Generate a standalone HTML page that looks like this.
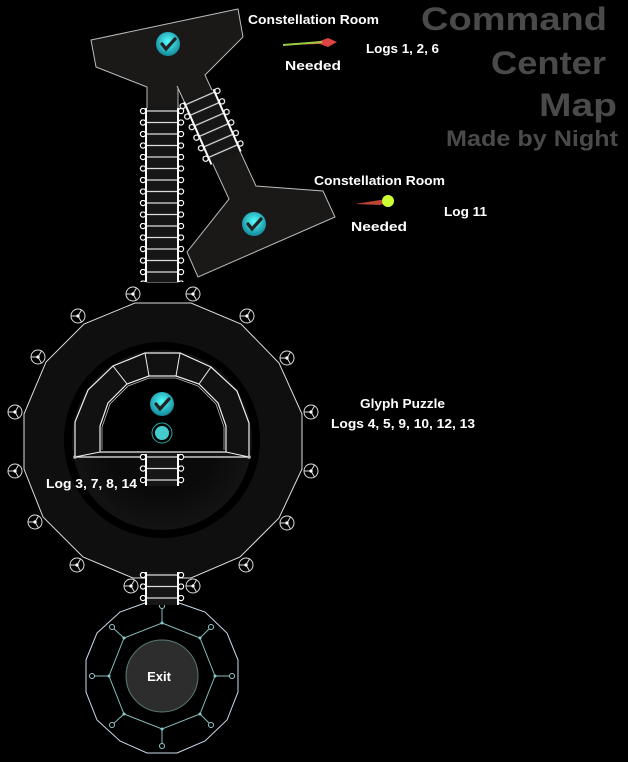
<!DOCTYPE html>
<html><head><meta charset="utf-8"><style>
html,body{margin:0;padding:0;background:#000;}
svg{display:block;}
text{font-family:"Liberation Sans",sans-serif;}
</style></head><body>
<svg width="628" height="762" viewBox="0 0 628 762" xmlns="http://www.w3.org/2000/svg">
<defs>
<pattern id="rung" x="0" y="0" width="46" height="11.5" patternUnits="userSpaceOnUse">
<line x1="7" y1="3" x2="39" y2="3" stroke="#ddd" stroke-width="1.2"/>
<circle cx="4" cy="3" r="2.6" fill="#000" stroke="#fff" stroke-width="1.2"/>
<circle cx="42" cy="3" r="2.6" fill="#000" stroke="#fff" stroke-width="1.2"/>
</pattern>
<radialGradient id="chk" cx="0.5" cy="0.4" r="0.6"><stop offset="0" stop-color="#5ff"/><stop offset="1" stop-color="#189"/></radialGradient>
<radialGradient id="inner" cx="0.5" cy="0.5" r="0.5"><stop offset="0.6" stop-color="#0a0a0a"/><stop offset="1" stop-color="#131313"/></radialGradient>
<g id="fan"><circle r="7" fill="none" stroke="#ddd" stroke-width="1"/><path d="M0 0 L-7 0 M0 0 L3.5 6 M0 0 L3.5 -6" stroke="#ddd" stroke-width="1"/><circle r="1.6" fill="#fff"/></g>
<g id="check"><circle r="12" fill="url(#chk)"/><path d="M-6 0 L-2 5 L7 -5" stroke="#222" stroke-width="3.2" fill="none" stroke-linecap="round"/></g>
</defs>

<polygon points="91,40 238,9 243,37 205,75 256,186 323,191 335,217 198,277 187,252 229,199 177,86 178,88 178,282 147,282 147,87 96,67" fill="#1a1918" stroke="#bbb" stroke-width="1"/>
<g transform="translate(139,108)">
<rect x="7" y="0" width="32" height="174" fill="#161616"/>
<rect x="0" y="0" width="46" height="174" fill="url(#rung)"/>
<line x1="7" y1="0" x2="7" y2="174" stroke="#fff" stroke-width="2"/>
<line x1="39" y1="0" x2="39" y2="174" stroke="#fff" stroke-width="2"/>
</g>
<g transform="translate(202,103) rotate(-23.6) translate(-23,-8)">
<rect x="7" y="0" width="32" height="68" fill="#161616"/>
<rect x="0" y="0" width="46" height="68" fill="url(#rung)"/>
<line x1="7" y1="0" x2="7" y2="68" stroke="#fff" stroke-width="2"/>
<line x1="39" y1="0" x2="39" y2="68" stroke="#fff" stroke-width="2"/>
</g>
<use href="#check" x="168" y="44"/>
<use href="#check" x="254" y="224"/>

<polygon points="135,303 191,303 241,324 279,363 302,414 302,469 279,518 240,557 191,578 133,578 83,557 43,517 24,469 24,414 46,362 84,324" fill="#0f0f0f" stroke="#ddd" stroke-width="1"/>
<circle cx="162" cy="440" r="98" fill="#000"/>
<circle cx="162" cy="440" r="90" fill="url(#inner)"/>
<polygon points="75,457 75,422 88,390 113,366 145,353 180,353 211,367 237,391 249,423 249,457" fill="#111" stroke="#eee" stroke-width="1.2"/>
<polygon points="100,452 100,426 108,403 127,384 149,376 176,376 199,384 218,403 226,426 226,452" fill="#000" stroke="#eee" stroke-width="1.2"/>
<polyline points="102,450 102,427 110,404 128,386 149,378 176,378 198,386 216,404 224,427 224,450" fill="none" stroke="#bbb" stroke-width="0.8"/>
<path d="M113,366 L127,384 M145,353 L149,376 M180,353 L176,376 M211,367 L199,384 M75,457 L100,452 M249,457 L226,452" stroke="#eee" stroke-width="1"/>
<circle cx="75" cy="457" r="1.8" fill="#bbb"/><circle cx="249" cy="457" r="1.8" fill="#bbb"/>
<use href="#check" x="162" y="404"/>
<circle cx="162" cy="433" r="10" fill="#000" stroke="#2aa" stroke-width="1"/>
<circle cx="162" cy="433" r="7" fill="#4cc"/>
<g transform="translate(139,454)">
<rect x="7" y="0" width="32" height="32" fill="#161616"/>
<rect x="0" y="0" width="46" height="34" fill="url(#rung)"/>
<line x1="7" y1="0" x2="7" y2="32" stroke="#fff" stroke-width="2"/>
<line x1="39" y1="0" x2="39" y2="32" stroke="#fff" stroke-width="2"/>
</g>
<use href="#fan" x="133" y="294"/><use href="#fan" x="193" y="294"/>
<use href="#fan" x="247" y="316"/><use href="#fan" x="287" y="358"/>
<use href="#fan" x="311" y="412"/><use href="#fan" x="311" y="471"/>
<use href="#fan" x="287" y="523"/><use href="#fan" x="246" y="565"/>
<use href="#fan" x="193" y="586"/><use href="#fan" x="131" y="586"/>
<use href="#fan" x="77" y="565"/><use href="#fan" x="35" y="522"/>
<use href="#fan" x="15" y="471"/><use href="#fan" x="15" y="412"/>
<use href="#fan" x="38" y="357"/><use href="#fan" x="78" y="316"/>

<polygon points="145,603 120,612 97,633 86,660 86,692 97,720 120,741 147,753 177,753 205,741 227,720 238,692 238,660 227,633 205,612 179,603" fill="#000" stroke="#cde" stroke-width="1"/>
<polygon points="162,623 200,638 215,676 200,714 162,729 124,714 109,676 124,638" fill="none" stroke="#8bb" stroke-width="1"/>
<g stroke="#8bb" stroke-width="1">
<line x1="162" y1="623" x2="162" y2="606"/><line x1="124" y1="638" x2="112" y2="627"/><line x1="200" y1="638" x2="211" y2="627"/>
<line x1="109" y1="676" x2="92" y2="676"/><line x1="215" y1="676" x2="232" y2="676"/>
<line x1="124" y1="714" x2="112" y2="725"/><line x1="200" y1="714" x2="211" y2="725"/><line x1="162" y1="729" x2="162" y2="746"/>
</g>
<g fill="#000" stroke="#9cc" stroke-width="1">
<circle cx="162" cy="606" r="2.5"/><circle cx="112" cy="627" r="2.5"/><circle cx="211" cy="627" r="2.5"/>
<circle cx="92" cy="676" r="2.5"/><circle cx="232" cy="676" r="2.5"/>
<circle cx="112" cy="725" r="2.5"/><circle cx="211" cy="725" r="2.5"/><circle cx="162" cy="746" r="2.5"/>
</g>
<g fill="#8cc"><circle cx="162" cy="623" r="1.5"/><circle cx="200" cy="638" r="1.5"/><circle cx="215" cy="676" r="1.5"/><circle cx="200" cy="714" r="1.5"/><circle cx="162" cy="729" r="1.5"/><circle cx="124" cy="714" r="1.5"/><circle cx="109" cy="676" r="1.5"/><circle cx="124" cy="638" r="1.5"/></g>
<circle cx="162" cy="676" r="36" fill="#2d2d2d" stroke="#5a7a78" stroke-width="1"/>
<text x="159" y="681" fill="#fff" font-size="13" font-weight="bold" text-anchor="middle">Exit</text>
<g transform="translate(139,572)">
<rect x="7" y="0" width="32" height="33" fill="#161616"/>
<rect x="0" y="0" width="46" height="33" fill="url(#rung)"/>
<line x1="7" y1="0" x2="7" y2="33" stroke="#fff" stroke-width="2"/>
<line x1="39" y1="0" x2="39" y2="33" stroke="#fff" stroke-width="2"/>
</g>

<polygon points="283,45 320,41 328,38 337,42 328,47 320,44" fill="#d44"/>
<line x1="283" y1="45" x2="322" y2="42" stroke="#9c4" stroke-width="2"/>
<polygon points="355,204 380,200 390,201 380,205" fill="#b43"/>
<circle cx="388" cy="201" r="6" fill="#cf3"/>

<g fill="#fff" font-size="12.5" font-weight="bold">
<text x="248" y="24" textLength="131" lengthAdjust="spacingAndGlyphs">Constellation Room</text>
<text x="366" y="53" textLength="73" lengthAdjust="spacingAndGlyphs">Logs 1, 2, 6</text>
<text x="285" y="70" textLength="56" lengthAdjust="spacingAndGlyphs">Needed</text>
<text x="314" y="185" textLength="131" lengthAdjust="spacingAndGlyphs">Constellation Room</text>
<text x="444" y="216" textLength="43" lengthAdjust="spacingAndGlyphs">Log 11</text>
<text x="351" y="231" textLength="56" lengthAdjust="spacingAndGlyphs">Needed</text>
<text x="360" y="408" textLength="85" lengthAdjust="spacingAndGlyphs">Glyph Puzzle</text>
<text x="331" y="428" textLength="144" lengthAdjust="spacingAndGlyphs">Logs 4, 5, 9, 10, 12, 13</text>
<text x="46" y="488" textLength="91" lengthAdjust="spacingAndGlyphs">Log 3, 7, 8, 14</text>
</g>
<g fill="#4a4a4a" font-weight="bold">
<text x="421" y="30" font-size="32" textLength="186" lengthAdjust="spacingAndGlyphs">Command</text>
<text x="491" y="74" font-size="32" textLength="115" lengthAdjust="spacingAndGlyphs">Center</text>
<text x="539" y="116" font-size="32" textLength="78" lengthAdjust="spacingAndGlyphs">Map</text>
<text x="446" y="146" font-size="22" textLength="172" lengthAdjust="spacingAndGlyphs">Made by Night</text>
</g>
</svg>
</body></html>
